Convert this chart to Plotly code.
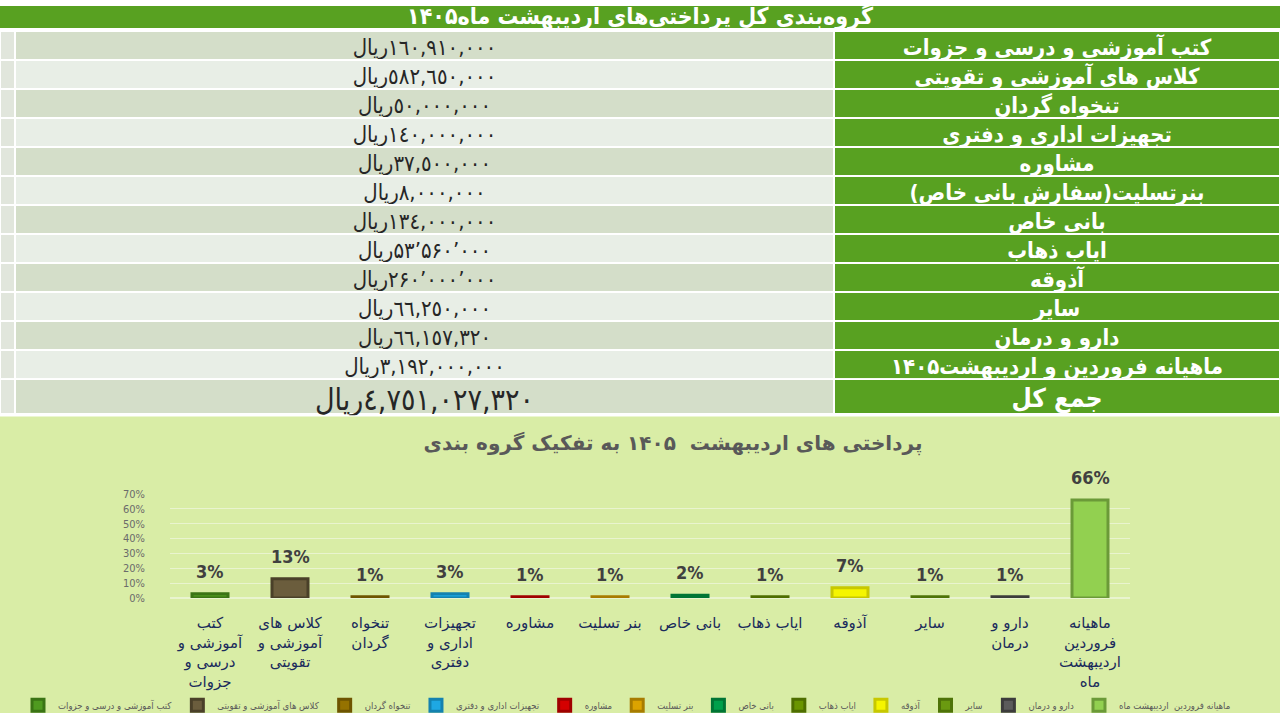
import plotly.graph_objects as go

# -------------------------------
# data
# -------------------------------
table_title = "گروه‌بندی کل پرداختی‌های اردیبهشت ماه۱۴۰۵"

row_labels = [
    "کتب آموزشی و درسی و جزوات",
    "کلاس های آموزشی و تقویتی",
    "تنخواه گردان",
    "تجهیزات اداری و دفتری",
    "مشاوره",
    "بنرتسلیت(سفارش بانی خاص)",
    "بانی خاص",
    "ایاب ذهاب",
    "آذوقه",
    "سایر",
    "دارو و درمان",
    "ماهیانه فروردین و اردیبهشت۱۴۰۵",
]

row_amounts = [
    "١٦٠,٩١٠,٠٠٠",
    "٥٨٢,٦٥٠,٠٠٠",
    "٥٠,٠٠٠,٠٠٠",
    "١٤٠,٠٠٠,٠٠٠",
    "٣٧,٥٠٠,٠٠٠",
    "٨,٠٠٠,٠٠٠",
    "١٣٤,٠٠٠,٠٠٠",
    "۵۳٬۵۶۰٬۰۰۰",
    "۲۶۰٬۰۰۰٬۰۰۰",
    "٦٦,٢٥٠,٠٠٠",
    "٦٦,١٥٧,٣٢٠",
    "٣,١٩٢,٠٠٠,٠٠٠",
]

total_label = "جمع کل"
total_amount = "٤,٧٥١,٠٢٧,٣٢٠"
currency = "ریال"

chart_title = "پرداختی های اردیبهشت  ۱۴۰۵ به تفکیک گروه بندی"

tick_labels = [
    "کتب<br>آموزشی و<br>درسی و<br>جزوات",
    "کلاس های<br>آموزشی و<br>تقویتی",
    "تنخواه<br>گردان",
    "تجهیزات<br>اداری و<br>دفتری",
    "مشاوره",
    "بنر تسلیت",
    "بانی خاص",
    "ایاب ذهاب",
    "آذوقه",
    "سایر",
    "دارو و<br>درمان",
    "ماهیانه<br>فروردین<br>اردیبهشت<br>ماه",
]

legend_names = [
    "کتب آموزشی و درسی و جزوات",
    "کلاس های آموزشی و تقویتی",
    "تنخواه گردان",
    "تجهیزات اداری و دفتری",
    "مشاوره",
    "بنر تسلیت",
    "بانی خاص",
    "ایاب ذهاب",
    "آذوقه",
    "سایر",
    "دارو و درمان",
    "ماهیانه فروردین  اردیبهشت ماه",
]

shares = [3, 13, 1, 3, 1, 1, 2, 1, 7, 1, 1, 66]

y_ticks = [0, 10, 20, 30, 40, 50, 60, 70]

# -------------------------------
# styles
# -------------------------------
bar_colors = ["#4f9a1f", "#6b5d3d", "#957200", "#1ea8e3", "#d40000", "#dca300",
              "#00a04b", "#6a9500", "#f5f500", "#6a9a10", "#5b5b5b", "#92d050"]
bar_edges = ["#3a7414", "#4a4029", "#6e5400", "#1482b0", "#a00000", "#a87c00",
             "#007535", "#4e6e00", "#c8c800", "#4e7308", "#3c3c3c", "#6b9a38"]

green = "#58a121"
fill_dark = "#d4dec9"
fill_light = "#e8eee6"
strip = "#e1e6dc"
chart_bg = "#d9eda6"
W, H = 1280, 720

font_tab = "DejaVu Sans Condensed, DejaVu Sans, sans-serif"
font_chart = "DejaVu Sans, sans-serif"

n = len(row_labels)
value_fill = [fill_dark if i % 2 == 0 else fill_light for i in range(n)]
value_text = ["\u200f" + a + currency for a in row_amounts]
col_widths = [15, 819, 446]

# tables have no header row here
no_header = dict(values=["", "", ""], height=0, fill_color="rgba(0,0,0,0)",
                 line=dict(width=0))

def py(px):
    # pixel row (from top) -> paper fraction
    return 1 - px / H

fig = go.Figure()

# table body
fig.add_trace(go.Table(
    domain=dict(x=[0, 1], y=[py(380), py(25)]),
    columnwidth=col_widths,
    header=no_header,
    cells=dict(
        values=[[""] * n, value_text, row_labels],
        fill_color=[[strip] * n, value_fill, [green] * n],
        line=dict(color="white", width=2),
        font=dict(
            family=font_tab,
            size=[12, 22, 22],
            color=["#262626", "#262626", "white"],
            weight=["normal", "normal", "bold"],
        ),
        align="center",
        height=29,
    ),
))

# total row
fig.add_trace(go.Table(
    domain=dict(x=[0, 1], y=[py(417), py(380)]),
    columnwidth=col_widths,
    header=no_header,
    cells=dict(
        values=[[""], ["\u200f" + total_amount + currency], [total_label]],
        fill_color=[strip, fill_dark, green],
        line=dict(color="white", width=2),
        font=dict(family=font_tab, size=[12, 30, 26],
                  color=["#262626", "#262626", "white"],
                  weight=["normal", "normal", "bold"]),
        align="center",
        height=35,
    ),
))

# bar chart, one trace per category so each gets a legend entry
for cat, name, val, col, edge in zip(tick_labels, legend_names, shares, bar_colors, bar_edges):
    fig.add_trace(go.Bar(
        x=[cat], y=[val], name=name,
        marker=dict(color=col, line=dict(color=edge, width=3)),
        width=0.45,
    ))

# value labels sit a little higher than plain outside text, like the 3d original
labels = [dict(
    x=cat, y=val, xref="x", yref="y", text=f"{val}%", showarrow=False,
    yanchor="bottom", yshift=10,
    font=dict(family=font_tab, size=18, color="#404040", weight="bold"),
) for cat, val in zip(tick_labels, shares)]

fig.update_layout(
    width=W, height=H,
    margin=dict(l=0, r=0, t=0, b=0),
    paper_bgcolor="white",
    plot_bgcolor="rgba(0,0,0,0)",
    barmode="overlay",
    showlegend=True,
    title=dict(
        text=chart_title, x=673 / W, xanchor="center", y=py(443), yanchor="middle",
        font=dict(family=font_chart, size=20, color="#595959", weight="bold"),
    ),
    xaxis=dict(
        domain=[170 / W, 1130 / W],
        categoryorder="array", categoryarray=tick_labels,
        showgrid=False, showline=False, zeroline=False,
        tickfont=dict(family=font_chart, size=15, color="#1a2b5c"),
        ticks="", ticklabelstandoff=14,
    ),
    yaxis=dict(
        domain=[py(603), py(497)],
        range=[0, 70],
        tickvals=y_ticks, ticktext=[f"{v}%" for v in y_ticks],
        tickfont=dict(family=font_tab, size=11, color="#6b6b6b"),
        showgrid=True, gridcolor="#e9f4cf", gridwidth=1,
        zeroline=True, zerolinecolor="#e9f4cf",
        showline=False, ticks="", ticklabelstandoff=24,
    ),
    legend=dict(
        orientation="h", x=627 / W, xanchor="center", y=py(712), yanchor="middle",
        bgcolor="rgba(0,0,0,0)", traceorder="normal",
        font=dict(family=font_tab, size=9.5, color="#595959"),
        itemwidth=30, tracegroupgap=0,
    ),
    shapes=[
        # green banner above the table and the chart panel background
        dict(type="rect", xref="paper", yref="paper", x0=0, x1=1, y0=py(22.5), y1=1,
             fillcolor=green, line=dict(width=0), layer="below"),
        dict(type="rect", xref="paper", yref="paper", x0=0, x1=1, y0=0, y1=py(418),
             fillcolor=chart_bg, line=dict(width=0), layer="below"),
    ],
    annotations=[dict(
        text=table_title, xref="paper", yref="paper", x=0.5, y=py(10.5),
        xanchor="center", yanchor="middle", showarrow=False,
        font=dict(family=font_tab, size=23, color="white", weight="bold"),
    )] + labels,
)

fig.write_html(
    "out.html", config={"displayModeBar": False},
    post_script="document.body.style.margin='0';",
)
